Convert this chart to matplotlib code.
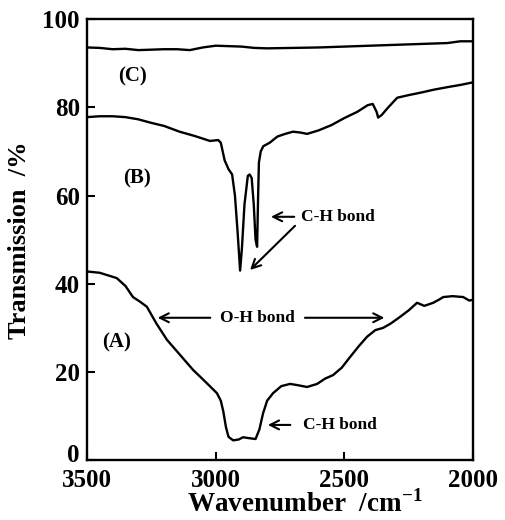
import numpy as np
import matplotlib.pyplot as plt
import matplotlib.transforms as mtransforms

plt.rcParams['font.family'] = ['Liberation Serif', 'DejaVu Serif']
plt.rcParams['font.weight'] = 'bold'
plt.rcParams['mathtext.fontset'] = 'custom'
plt.rcParams['mathtext.rm'] = 'Liberation Serif:bold'

# spectrum (C): nearly flat
wn_c = [3500, 3450, 3400, 3350, 3300, 3250, 3200, 3150, 3100, 3050, 3000, 2950, 2900,
        2850, 2800, 2700, 2600, 2500, 2400, 2300, 2200, 2100, 2050, 2000]
tr_c = [93.6, 93.5, 93.2, 93.3, 93.0, 93.1, 93.2, 93.2, 93.0, 93.6, 94.0, 93.9, 93.8,
        93.5, 93.4, 93.5, 93.6, 93.8, 94.0, 94.2, 94.4, 94.6, 95.0, 95.0]

# spectrum (B)
wn_b = [3500, 3450, 3400, 3350, 3300, 3250, 3200, 3140, 3080, 3022, 2990, 2980, 2965,
        2950, 2936, 2925, 2915, 2905, 2898, 2888, 2875, 2868, 2860, 2852, 2845, 2839,
        2835, 2832, 2825, 2815, 2790, 2760, 2730, 2700, 2670, 2645, 2600, 2550, 2500,
        2450, 2410, 2390, 2375, 2369, 2355, 2330, 2295, 2250, 2200, 2155, 2100, 2050, 2000]
tr_b = [77.8, 78.0, 78.0, 77.8, 77.3, 76.5, 75.8, 74.5, 73.5, 72.4, 72.6, 72.0, 68.0,
        66.0, 64.8, 60.0, 52.0, 43.0, 48.0, 58.0, 64.5, 64.8, 64.0, 58.0, 50.0, 48.4,
        60.0, 67.5, 70.0, 71.2, 72.0, 73.4, 74.0, 74.5, 74.3, 74.0, 74.8, 76.0, 77.6,
        79.0, 80.5, 80.8, 79.0, 77.7, 78.3, 80.0, 82.2, 82.8, 83.4, 84.0, 84.6, 85.1, 85.7]

# spectrum (A)
wn_a = [3500, 3450, 3384, 3350, 3321, 3295, 3267, 3230, 3189, 3140, 3088, 3040, 2995,
        2980, 2970, 2960, 2950, 2932, 2910, 2894, 2870, 2845, 2830, 2816, 2800, 2777,
        2745, 2711, 2680, 2645, 2606, 2575, 2544, 2510, 2478, 2445, 2412, 2380, 2350,
        2320, 2284, 2250, 2218, 2190, 2155, 2130, 2116, 2080, 2039, 2015, 2000]
tr_a = [42.8, 42.5, 41.3, 39.5, 37.0, 36.0, 34.8, 31.0, 27.3, 24.0, 20.5, 17.8, 15.2,
        13.5, 11.0, 7.5, 5.3, 4.5, 4.7, 5.2, 5.0, 4.8, 7.0, 10.6, 13.5, 15.2,
        16.8, 17.3, 17.0, 16.6, 17.3, 18.5, 19.3, 21.0, 23.4, 25.8, 28.0, 29.5, 30.0,
        31.0, 32.5, 34.0, 35.7, 35.0, 35.7, 36.5, 37.0, 37.2, 37.0, 36.2, 36.4]

fig = plt.figure(figsize=(5.05, 5.2), dpi=100)
ax = fig.add_axes([0.172, 0.115, 0.765, 0.848])

for wn, tr in [(wn_a, tr_a), (wn_b, tr_b), (wn_c, tr_c)]:
    ax.plot(wn, tr, color='black', lw=1.7)

ax.set_xlim(3500, 2000)
ax.set_ylim(0, 100)
ax.set_xticks([3500, 3000, 2500, 2000])
ax.set_yticks([0, 20, 40, 60, 80, 100])
ax.tick_params(direction='in', length=6, width=1.5, labelsize=18,
               top=False, right=False)
ax.tick_params(axis='x', pad=6)
ax.tick_params(axis='y', pad=5)
for s in ax.spines.values():
    s.set_linewidth(1.7)

# nudge the "0" label up so it clears "3500"
zero_lbl = ax.get_yticklabels()[0]
zero_lbl.set_va('bottom')
zero_lbl.set_transform(zero_lbl.get_transform() +
                       mtransforms.ScaledTranslation(0, -5 / 72, fig.dpi_scale_trans))

ax.set_xlabel('Wavenumber  /cm$^{-1}$', fontsize=19.5, fontweight='bold')
ax.xaxis.set_label_coords(0.565, -0.068)
ax.set_ylabel('Transmission  /%', fontsize=19, fontweight='bold', labelpad=8)

# curve labels
ax.text(3321, 87, '(C)', fontsize=15, ha='center', va='center')
ax.text(3306, 64, '(B)', fontsize=15, ha='center', va='center')
ax.text(3384, 26.8, '(A)', fontsize=15, ha='center', va='center')

arrow = dict(arrowstyle='->', color='black', lw=1.5, mutation_scale=16)

# C-H bond arrows for (B)
ax.annotate('', xy=(2796, 55.2), xytext=(2684, 55.2), arrowprops=arrow)
ax.annotate('', xy=(2874, 42.7), xytext=(2684, 53.6), arrowprops=arrow)
ax.text(2670, 55.2, 'C-H bond', fontsize=12.5, ha='left', va='center')

# O-H bond double arrow for (A)
ax.annotate('', xy=(3236, 32.3), xytext=(3010, 32.3), arrowprops=arrow)
ax.annotate('', xy=(2334, 32.3), xytext=(2664, 32.3), arrowprops=arrow)
ax.text(2837, 32.3, 'O-H bond', fontsize=12.5, ha='center', va='center')

# C-H bond arrow for (A)
ax.annotate('', xy=(2808, 8), xytext=(2699, 8), arrowprops=arrow)
ax.text(2662, 8, 'C-H bond', fontsize=12.5, ha='left', va='center')

fig.savefig('out.png', dpi=100)
